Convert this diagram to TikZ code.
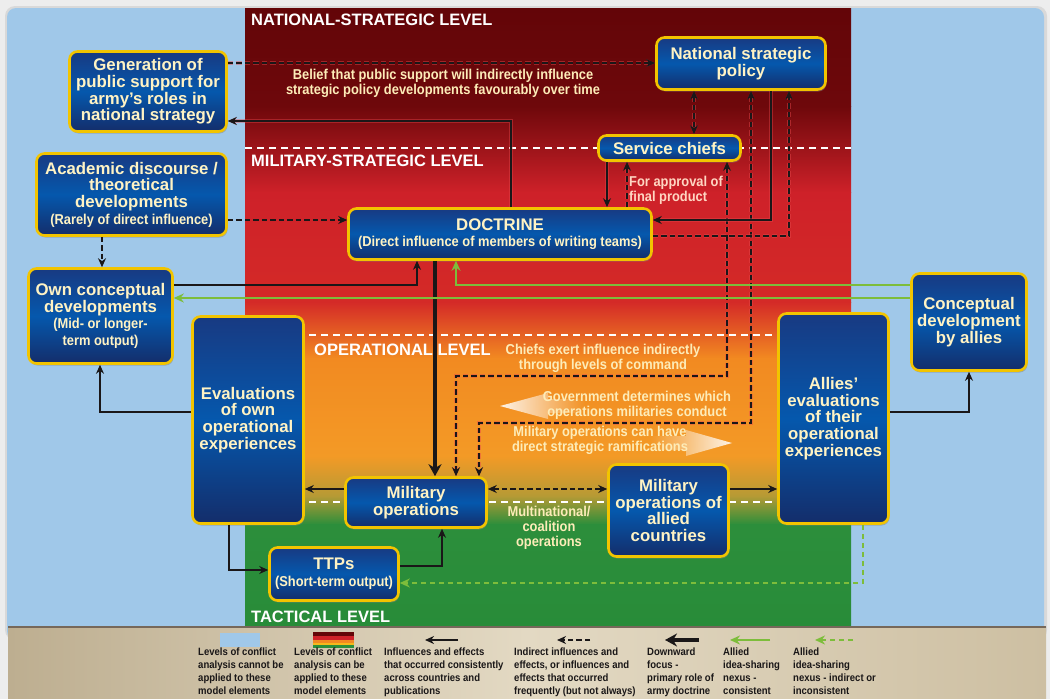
\documentclass[tikz,border=0pt]{standalone}
\usepackage{fontspec}
\setmainfont{Liberation Sans}
\newfontfamily\narrowsans[FakeStretch=0.9]{Liberation Sans}
\usetikzlibrary{arrows.meta,shadows,fadings}

\definecolor{pagegray}{HTML}{EDEDED}
\definecolor{skyblue}{HTML}{A0C8E9}
\definecolor{boxgold}{HTML}{F2C400}
\definecolor{boxtop}{HTML}{183A82}
\definecolor{boxmid}{HTML}{0558AD}
\definecolor{boxbot}{HTML}{142D6A}
\definecolor{cream}{HTML}{FFF3C4}
\definecolor{labelcream}{HTML}{FDECB8}
\definecolor{pinkcream}{HTML}{FFD6C2}
\definecolor{lineblk}{HTML}{1A1718}
\definecolor{allygreen}{HTML}{7DBD3B}
\definecolor{halo}{HTML}{E8484C}
\definecolor{bandA}{HTML}{630508}
\definecolor{bandB}{HTML}{6E080B}
\definecolor{bandC}{HTML}{CE2129}
\definecolor{bandD}{HTML}{D42A27}
\definecolor{bandE}{HTML}{F28A21}
\definecolor{bandF}{HTML}{F39A26}
\definecolor{bandG}{HTML}{B59A35}
\definecolor{bandH}{HTML}{2C8E3B}
\definecolor{bandI}{HTML}{288C39}
\definecolor{legl}{HTML}{BDAE90}
\definecolor{legm}{HTML}{E3D9C3}
\definecolor{legr}{HTML}{CDBFA2}
\definecolor{legedge}{HTML}{76685A}

\tikzfading[name=tipleft, left color=transparent!10, right color=transparent!100]
\tikzfading[name=tipright, left color=transparent!100, right color=transparent!10]

\newcommand\bxfont{\fontsize{16.8}{16.7}\selectfont\bfseries}
\newcommand\sbfont{\narrowsans\fontsize{14.3}{16.7}\selectfont\bfseries}
\newcommand\lbfont{\narrowsans\fontsize{14.3}{15}\selectfont\bfseries}
\newcommand\lgfont{\narrowsans\fontsize{10.6}{13}\selectfont\bfseries}
\newcommand\lvfont{\fontsize{16.5}{18}\selectfont\bfseries}

\begin{document}
\begin{tikzpicture}[x=1pt,y=-1pt,
  box/.style={draw=boxgold, line width=2.6pt, rounded corners=8pt,
    top color=boxtop, bottom color=boxbot, middle color=boxmid,
    text=cream, font=\bxfont, align=center, inner sep=0pt,
    drop shadow={opacity=0.45, shadow xshift=1pt, shadow yshift=-2pt}},
  lvl/.style={anchor=west, inner sep=0pt, text=white, font=\lvfont},
  lbl/.style={inner sep=0pt, text=labelcream, font=\lbfont, align=center},
  leg/.style={anchor=north west, inner sep=0pt, text=lineblk, font=\lgfont, align=left},
  conn/.style={draw=lineblk, line width=1.5pt},
  glow/.style={preaction={draw=halo, draw opacity=0.4, line width=3.8pt}},
  glowdash/.style={preaction={draw=halo, draw opacity=0.45, line width=3.8pt,
    dash pattern=on 5.5pt off 3pt}},
  solarr/.style={conn, -{Stealth[length=9pt,width=8pt]}},
  dasharr/.style={solarr, dash pattern=on 5.5pt off 3pt},
  dualarr/.style={conn, dash pattern=on 5.5pt off 3pt,
    {Stealth[length=9pt,width=8pt]}-{Stealth[length=9pt,width=8pt]}},
  heavyarr/.style={draw=lineblk, line width=4.6pt, -{Stealth[length=12pt,width=13pt]}},
  allyarr/.style={draw=allygreen, line width=2.4pt, -{Stealth[length=10pt,width=9pt]}},
  allydash/.style={allyarr, dash pattern=on 5pt off 4pt},
  lvline/.style={draw=white, line width=2.2pt, dash pattern=on 7pt off 5pt}]

\useasboundingbox (0,0) rectangle (1050,699);

% page and frame
\fill[pagegray] (0,0) rectangle (1050,699);
\fill[black!15, rounded corners=10pt] (5,6) rectangle (1047,640);
\fill[skyblue, rounded corners=9pt] (7,8) rectangle (1044,640);

% levels-of-conflict band
\foreach \ya/\yb/\ca/\cb in {8/106/bandA/bandB, 106/192/bandB/bandC,
    192/302/bandC/bandD, 302/358/bandD/bandE, 358/456/bandE/bandF,
    456/496/bandF/bandG, 496/524/bandG/bandH, 524/630/bandH/bandI}
  \shade[top color=\ca, bottom color=\cb] (245,\ya) rectangle (851,\yb+0.6);

% boundaries between levels
\draw[lvline] (245,148) -- (851,148);
\draw[lvline] (309,335) -- (776,335);
\draw[lvline] (309,502) -- (776,502);

\node[lvl] (lvnat) at (251,20) {NATIONAL-STRATEGIC LEVEL};
\node[lvl] (lvmil) at (251,161) {MILITARY-STRATEGIC LEVEL};
\node[lvl] (lvop) at (314,350) {OPERATIONAL LEVEL};
\node[lvl] (lvtac) at (251,617) {TACTICAL LEVEL};

% legend strip
\shade[left color=legl, right color=legr, middle color=legm] (8,627) rectangle (1046,699);
\draw[legedge, line width=1.6pt] (8,627) -- (1046,627);

% fading direction arrows
\fill[white, path fading=tipleft] (500,406) -- (548,393) -- (548,399) -- (585,399)
  -- (585,413) -- (548,413) -- (548,419) -- cycle;
\fill[white, path fading=tipright] (732,443) -- (686,430) -- (686,436) -- (650,436)
  -- (650,450) -- (686,450) -- (686,456) -- cycle;

% labels
\node[lbl] (belief) at (443,83.5) {Belief that public support will indirectly influence\\strategic policy developments favourably over time};
\node[lbl, anchor=west, align=left, text=pinkcream] (approval) at (629,190.5) {For approval of\\final product};
\node[lbl] (chiefs) at (603,358) {Chiefs exert influence indirectly\\through levels of command};
\node[lbl] (govt) at (637,405) {Government determines which\\operations militaries conduct};
\node[lbl] (ramif) at (600,440) {Military operations can have\\direct strategic ramifications};
\node[lbl] (multi) at (549,528) {Multinational/\\coalition\\operations};

% model elements
\node[box, minimum width=157pt, minimum height=80pt] (gen) at (148,91.5) {Generation of\\public support for\\army’s roles in\\national strategy};
\node[box, minimum width=169pt, minimum height=52pt] (nat) at (741,63.5) {National strategic\\policy};
\node[box, minimum width=190pt, minimum height=82pt] (aca) at (131.5,194.5) {Academic discourse /\\theoretical\\developments\\\sbfont (Rarely of direct influence)};
\node[box, minimum width=142pt, minimum height=25pt] (sc) at (669.5,148) {Service chiefs};
\node[box, minimum width=303pt, minimum height=51pt] (doc) at (500,234) {DOCTRINE\\\sbfont (Direct influence of members of writing teams)};
\node[box, minimum width=144pt, minimum height=95pt] (own) at (100.5,316) {Own conceptual\\developments\\\sbfont (Mid- or longer-\\\sbfont term output)};
\node[box, minimum width=111pt, minimum height=207pt] (ev) at (248,420) {Evaluations\\of own\\operational\\experiences};
\node[box, minimum width=115pt, minimum height=97pt] (cda) at (969,322) {Conceptual\\development\\by allies};
\node[box, minimum width=110pt, minimum height=210pt] (aev) at (833.5,418.5) {Allies’\\evaluations\\of their\\operational\\experiences};
\node[box, minimum width=141pt, minimum height=50pt] (mo) at (416,502.5) {Military\\operations};
\node[box, minimum width=120pt, minimum height=92pt] (ao) at (668.5,510.5) {Military\\operations of\\allied\\countries};
\node[box, minimum width=129pt, minimum height=53pt] (ttp) at (334,574) {TTPs\\\sbfont (Short-term output)};

% influences between elements
\draw[dasharr, glowdash] (gen.east |- 0,63) -- (nat.west |- 0,63);
\draw[solarr, glow] (doc.north -| 511,0) |- (gen.east |- 0,121);
\draw[dasharr] (aca.east |- 0,220) -- (doc.west |- 0,220);
\draw[dasharr] (aca.south -| 102,0) -- (own.north -| 102,0);
\draw[dualarr, glowdash] (nat.south -| 694,0) -- (sc.north -| 694,0);
\draw[solarr, glow] (sc.south -| 607,0) -- (doc.north -| 607,0);
\draw[dasharr, glowdash] (doc.north -| 627,0) -- (sc.south -| 627,0);
\draw[dualarr, glowdash] (sc.south -| 727,0) -- (727,376) -- (456,376) -- (mo.north -| 456,0);
\draw[dualarr, glowdash] (nat.south -| 751,0) -- (751,423) -- (479,423) -- (mo.north -| 479,0);
\draw[solarr, glow] (nat.south -| 771,0) |- (doc.east |- 0,220);
\draw[dasharr, glowdash] (doc.east |- 0,236) -| (nat.south -| 789,0);
\draw[solarr] (own.east |- 0,285) -| (doc.south -| 417,0);
\draw[heavyarr] (doc.south -| 435,0) -- (mo.north -| 435,0);
\draw[allyarr] (cda.west |- 0,285) -| (doc.south -| 456,0);
\draw[allyarr] (cda.west |- 0,298) -- (own.east |- 0,298);
\draw[solarr] (ev.west |- 0,412) -| (own.south -| 100,0);
\draw[solarr] (mo.west |- 0,489) -- (ev.east |- 0,489);
\draw[solarr] (ev.south -| 229,0) |- (ttp.west |- 0,570);
\draw[solarr] (ttp.east |- 0,566) -| (mo.south -| 442,0);
\draw[dualarr] (mo.east |- 0,489) -- (ao.west |- 0,489);
\draw[solarr] (ao.east |- 0,489) -- (aev.west |- 0,489);
\draw[solarr] (aev.east |- 0,412) -| (cda.south -| 969,0);
\draw[allydash] (aev.south -| 863,0) |- (ttp.east |- 0,583);

% legend
\fill[skyblue] (220,633) rectangle (260,647);
\fill[bandA] (313,632) rectangle (354,636);
\fill[bandC] (313,636) rectangle (354,640);
\fill[bandE] (313,640) rectangle (354,643);
\fill[bandF!70!yellow] (313,643) rectangle (354,644.5);
\fill[bandH] (313,644.5) rectangle (354,648);

\coordinate (k1a) at (458,640); \coordinate (k1b) at (425,640);
\coordinate (k2a) at (590,640); \coordinate (k2b) at (557,640);
\coordinate (k3a) at (699,640); \coordinate (k3b) at (665,640);
\coordinate (k4a) at (770,640); \coordinate (k4b) at (730,640);
\coordinate (k5a) at (853,640); \coordinate (k5b) at (815,640);
\draw[solarr] (k1a) -- (k1b);
\draw[dasharr] (k2a) -- (k2b);
\draw[heavyarr] (k3a) -- (k3b);
\draw[allyarr] (k4a) -- (k4b);
\draw[allydash] (k5a) -- (k5b);

\node[leg] (t1) at (198,648) {Levels of conflict\\analysis cannot be\\applied to these\\model elements};
\node[leg] (t2) at (294,648) {Levels of conflict\\analysis can be\\applied to these\\model elements};
\node[leg] (t3) at (384,648) {Influences and effects\\that occurred consistently\\across countries and\\publications};
\node[leg] (t4) at (514,648) {Indirect influences and\\effects, or influences and\\effects that occurred\\frequently (but not always)};
\node[leg] (t5) at (647,648) {Downward\\focus -\\primary role of\\army doctrine};
\node[leg] (t6) at (723,648) {Allied\\idea-sharing\\nexus -\\consistent};
\node[leg] (t7) at (793,648) {Allied\\idea-sharing\\nexus - indirect or\\inconsistent};
\end{tikzpicture}
\end{document}
